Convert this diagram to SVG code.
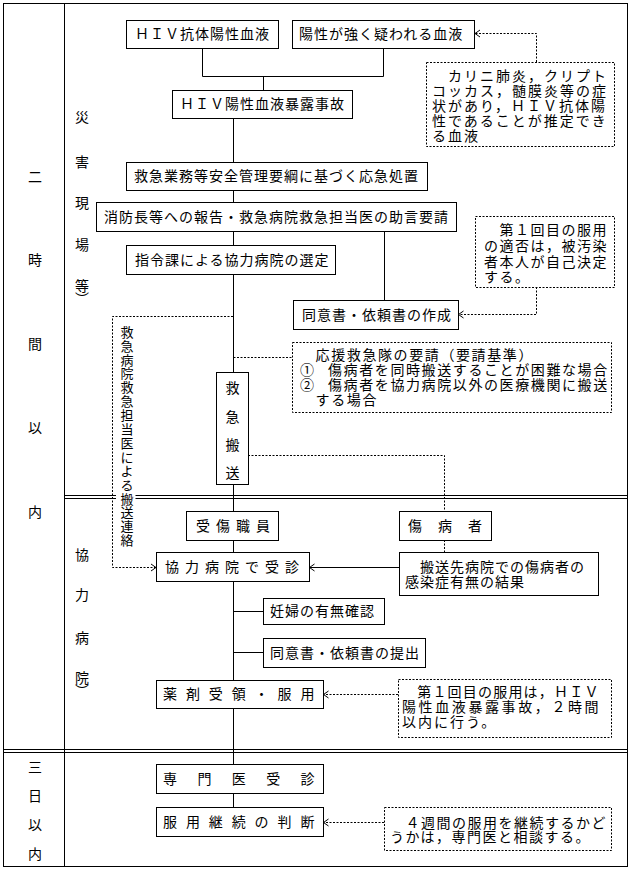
<svg xmlns="http://www.w3.org/2000/svg" width="629" height="869" viewBox="0 0 629 869">
<style>
.b{fill:#fff;stroke:#000;stroke-width:1}
.d{fill:#fff;stroke:#000;stroke-width:1;stroke-dasharray:2 1.5}
.ln{fill:none;stroke:#000;stroke-width:1}
.dl{fill:none;stroke:#000;stroke-width:1;stroke-dasharray:2 1.5}
text{font-family:"Noto Sans CJK JP","Noto Sans CJK SC",sans-serif;font-size:14px;fill:#000}
.t{letter-spacing:1px}
.n{letter-spacing:1.5px}
.c{text-anchor:middle}
.v{writing-mode:vertical-rl}
</style>
<defs>
<marker id="ah" markerUnits="userSpaceOnUse" markerWidth="10" markerHeight="10" viewBox="-6 -5 10 10" refX="0" refY="0" orient="auto" overflow="visible">
<path d="M-5,-3.5 L0,0 L-5,3.5" fill="none" stroke="#000" stroke-width="1"/>
</marker>
</defs>
<rect width="629" height="869" fill="#fff"/>
<g id="frame">
<rect class="ln" x="3.5" y="3.5" width="624" height="863"/>
<path class="ln" d="M64.5,3.5 V866.5"/>
<path class="ln" d="M64,495.5 H627 M64,498.5 H627 M3,749.5 H627 M3,752.5 H627"/>
<text class="c" x="35 35 35 35 35" y="182 265 349 433 517">二時間以内</text>
<text class="c" x="35 35 35 35" y="772 801 830 859">三日以内</text>
<text class="c" x="82 82 82 82 82" y="122 167 208 250 291">災害現場等</text>
<text class="v" x="82" y="292">）</text>
<text class="c" x="82 82 82 82" y="560 600 643 683">協力病院</text>
<text class="v" x="82" y="684">）</text>
</g>
<g id="connectors">
<path class="ln" d="M202.5,48 V76.5 H383.5 V48"/>
<path class="ln" d="M263.5,76.5 V90"/>
<path class="ln" d="M233.5,118 V807"/>
<path class="ln" d="M384.5,231 V300"/>
<path class="dl" d="M536.5,62 V33.5 H475" marker-end="url(#ah)"/>
<path class="dl" d="M536.5,287 V314.5 H458.5" marker-end="url(#ah)"/>
<path class="dl" d="M233,316.5 H112.5 V567.5 H156" marker-end="url(#ah)"/>
<path class="dl" d="M233.5,357.5 H292"/>
<path class="dl" d="M248,455.5 H444.5 V511"/>
<path class="dl" d="M444.5,540 V552"/>
<path class="ln" d="M399,567.5 H309.5" marker-end="url(#ah)"/>
<path class="ln" d="M233.5,611.5 H263 M233.5,652.5 H263"/>
<path class="dl" d="M398,694.5 H323.5" marker-end="url(#ah)"/>
<path class="dl" d="M384,822.5 H323.5" marker-end="url(#ah)"/>
<rect x="116" y="493" width="19.5" height="7" fill="#fff"/>
<text class="c" style="font-size:13px" x="127 127 127 127 127 127 127 127 127 127 127 127 127 127 127 127" y="336.7 350.6 364.5 378.4 392.3 406.2 420.1 434 447.9 461.8 475.7 489.6 503.5 517.4 531.3 545.2">救急病院救急担当医による搬送連絡</text>
</g>
<g id="n1"><rect class="b" x="126.5" y="20.5" width="152" height="28"/><text class="t" x="135" y="39">ＨＩＶ抗体陽性血液</text></g>
<g id="n2"><rect class="b" x="292.5" y="20.5" width="182" height="28"/><text class="t" x="299" y="39">陽性が強く疑われる血液</text></g>
<g id="n3"><rect class="d" x="426.5" y="62.5" width="188" height="84"/>
<text style="letter-spacing:2px"><tspan x="432" y="80.5">　カリニ肺炎，クリプト</tspan><tspan x="432" y="95.5">コッカス，髄膜炎等の症</tspan><tspan x="432" y="110.5">状があり，ＨＩＶ抗体陽</tspan><tspan x="432" y="125.5">性であることが推定でき</tspan><tspan x="432" y="140.5">る血液</tspan></text></g>
<g id="n4"><rect class="b" x="172.5" y="90.5" width="180" height="28"/><text class="t" x="180" y="109">ＨＩＶ陽性血液暴露事故</text></g>
<g id="n5"><rect class="b" x="126.5" y="162.5" width="301" height="28"/><text class="t" x="134" y="181">救急業務等安全管理要綱に基づく応急処置</text></g>
<g id="n6"><rect class="b" x="96.5" y="202.5" width="360" height="29"/><text class="t" x="104" y="221.5">消防長等への報告・救急病院救急担当医の助言要請</text></g>
<g id="n7"><rect class="b" x="126.5" y="245.5" width="209" height="29"/><text class="t" x="135" y="264.5">指令課による協力病院の選定</text></g>
<g id="n8"><rect class="d" x="475.5" y="216.5" width="139" height="71"/>
<text class="n"><tspan x="484" y="235">　第１回目の服用</tspan><tspan x="484" y="251">の適否は，被汚染</tspan><tspan x="484" y="267">者本人が自己決定</tspan><tspan x="484" y="282">する。</tspan></text></g>
<g id="n9"><rect class="b" x="293.5" y="300.5" width="165" height="29"/><text class="t" x="302" y="319.5">同意書・依頼書の作成</text></g>
<g id="n10"><rect class="d" x="292.5" y="342.5" width="319" height="70"/>
<text style="letter-spacing:1.6px"><tspan x="300" y="360">　応援救急隊の要請（要請基準）</tspan><tspan x="300" y="375">①　</tspan><tspan x="328" y="375">傷病者を同時搬送することが困難な場合</tspan><tspan x="300" y="390">②　</tspan><tspan x="328" y="390">傷病者を協力病院以外の医療機関に搬送</tspan><tspan x="300" y="405">　する場合</tspan></text></g>
<g id="n11"><rect class="b" x="216.5" y="372.5" width="32" height="112"/><text class="c" x="232.5 232.5 232.5 232.5" y="393 422 450 478">救急搬送</text></g>
<g id="n12"><rect class="b" x="186.5" y="511.5" width="92" height="29"/><text x="196" y="530.5" style="letter-spacing:6px">受傷職員</text></g>
<g id="n13"><rect class="b" x="399.5" y="511.5" width="92" height="29"/><text class="t" x="408" y="530.5">傷　病　者</text></g>
<g id="n14"><rect class="b" x="156.5" y="552.5" width="153" height="29"/><text x="165" y="571.5" style="letter-spacing:6px">協力病院で受診</text></g>
<g id="n15"><rect class="b" x="399.5" y="552.5" width="199" height="43"/>
<text class="t"><tspan x="405" y="572">　搬送先病院での傷病者の</tspan><tspan x="405" y="587">感染症有無の結果</tspan></text></g>
<g id="n16"><rect class="b" x="263.5" y="598.5" width="121" height="26"/><text class="t" x="270" y="616">妊婦の有無確認</text></g>
<g id="n17"><rect class="b" x="263.5" y="638.5" width="162" height="29"/><text class="t" x="270" y="657.5">同意書・依頼書の提出</text></g>
<g id="n18"><rect class="b" x="156.5" y="680.5" width="167" height="28"/><text x="163" y="699" style="letter-spacing:8.9px">薬剤受領・服用</text></g>
<g id="n19"><rect class="d" x="398.5" y="679.5" width="213" height="58"/>
<text><tspan x="402" y="697" style="letter-spacing:1.2px">　第１回目の服用は，ＨＩＶ</tspan><tspan x="402" y="712" style="letter-spacing:2.6px">陽性血液暴露事故，２時間</tspan><tspan x="402" y="727" style="letter-spacing:2px">以内に行う。</tspan></text></g>
<g id="n20"><rect class="b" x="156.5" y="764.5" width="167" height="29"/><text x="163" y="784" style="letter-spacing:20.4px">専門医受診</text></g>
<g id="n21"><rect class="b" x="156.5" y="807.5" width="167" height="29"/><text x="163" y="827" style="letter-spacing:8.9px">服用継続の判断</text></g>
<g id="n22"><rect class="d" x="384.5" y="807.5" width="227" height="43"/>
<text class="n"><tspan x="390" y="827.5">　４週間の服用を継続するかど</tspan><tspan x="390" y="842">うかは，専門医と相談する。</tspan></text></g>
</svg>
